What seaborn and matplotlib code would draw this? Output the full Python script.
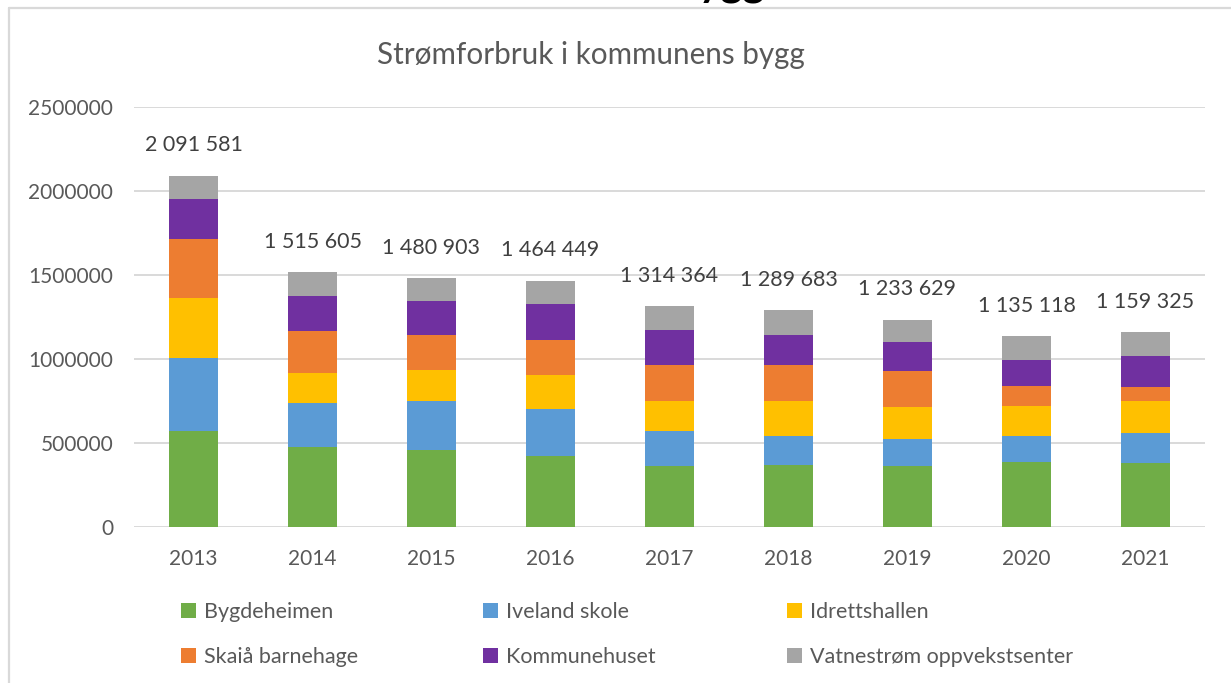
import numpy as np
import pandas as pd
import matplotlib
matplotlib.use("Agg")
import matplotlib.pyplot as plt
from matplotlib.patches import Patch
from matplotlib.lines import Line2D
import seaborn as sns

years = ["2013", "2014", "2015", "2016", "2017", "2018", "2019", "2020", "2021"]
series_names = ["Bygdeheimen", "Iveland skole", "Idrettshallen",
                "Skaiå barnehage", "Kommunehuset", "Vatnestrøm oppvekstsenter"]
bygdeheimen = [569000, 474000, 456000, 424000, 363000, 371000, 363000, 387000, 379000]
iveland_skole = [437000, 266000, 292000, 276000, 208000, 169000, 161000, 153000, 182000]
idrettshallen = [359000, 174000, 188000, 205000, 181000, 212000, 190000, 182000, 191000]
skaia_barnehage = [351000, 253000, 209000, 206000, 214000, 214000, 213000, 115000, 83000]
kommunehuset = [236000, 206000, 198000, 215000, 207000, 175000, 176000, 159000, 184000]
totals = [2091581, 1515605, 1480903, 1464449, 1314364, 1289683, 1233629, 1135118, 1159325]
# Vatnestrøm oppvekstsenter = total minus the other five
colors = ["#70AD47", "#5B9BD5", "#FFC000", "#ED7D31", "#7030A0", "#A5A5A5"]

lower = [bygdeheimen, iveland_skole, idrettshallen, skaia_barnehage, kommunehuset]
cum = np.cumsum(np.array(lower, dtype=float), axis=0)
cum_all = list(cum) + [np.array(totals, dtype=float)]

sns.set_theme(style="white")
plt.rcParams["font.family"] = ["Lato", "DejaVu Sans"]

W, H = 1231, 683
fig = plt.figure(figsize=(W / 100, H / 100), dpi=100)
ax = fig.add_axes([134 / W, 1 - 527 / H, (1205 - 134) / W, (527 - 107) / H])

# stacked bars: draw cumulative heights from top layer down
for i in range(len(cum_all) - 1, -1, -1):
    df = pd.DataFrame({"year": years, "value": cum_all[i]})
    sns.barplot(data=df, x="year", y="value", color=colors[i], width=0.417,
                saturation=1, ax=ax, linewidth=0, edgecolor="none")

ax.set_ylim(0, 2500000)
ax.set_yticks([0, 500000, 1000000, 1500000, 2000000, 2500000])
ax.set_yticklabels(["0", "500000", "1000000", "1500000", "2000000", "2500000"])
ax.set_xlabel("")
ax.set_ylabel("")
ax.yaxis.grid(True, color="#D9D9D9", linewidth=1.4)
ax.set_axisbelow(True)
for s in ax.spines.values():
    s.set_visible(False)
ax.tick_params(axis="both", length=0, labelsize=15, labelcolor="#595959")
ax.tick_params(axis="y", pad=15)
ax.tick_params(axis="x", pad=16)

# total labels
for i, t in enumerate(totals):
    label = f"{t:,}".replace(",", " ")
    ax.annotate(label, (i, t), xytext=(0, 22), textcoords="offset points",
                ha="center", va="center", fontsize=15.5, color="#404040")

fig.text(591 / W, 1 - 64 / H, "Strømforbruk i kommunens bygg", ha="center",
         va="baseline", fontsize=21.3, color="#595959")

# legend: three columns, two rows
handles = [Patch(facecolor=c, edgecolor="none") for c in colors]
col_x = [181, 483, 787]
for c in range(3):
    idx = [c, c + 3]
    fig.legend([handles[k] for k in idx], [series_names[k] for k in idx],
               ncol=1, loc="center left", bbox_to_anchor=(col_x[c] / W, 1 - 634.5 / H),
               frameon=False, fontsize=15.5, labelcolor="#595959",
               handlelength=0.7, handleheight=0.7, handletextpad=0.35,
               labelspacing=1.2, borderpad=0, borderaxespad=0)

# chart border (top and left visible)
fig.add_artist(Line2D([9 / W, 1.0], [1 - 8 / H, 1 - 8 / H], color="#D9D9D9", linewidth=1.6))
fig.add_artist(Line2D([9 / W, 9 / W], [0, 1 - 8 / H], color="#D9D9D9", linewidth=1.6))

# cut-off heading fragment at the very top (as in the reference)
fig.text(765 / W, 1 + 4 / H, "bygg", ha="right", va="baseline", fontsize=30,
         fontweight="bold", color="black")

fig.savefig("out.png", dpi=100)
